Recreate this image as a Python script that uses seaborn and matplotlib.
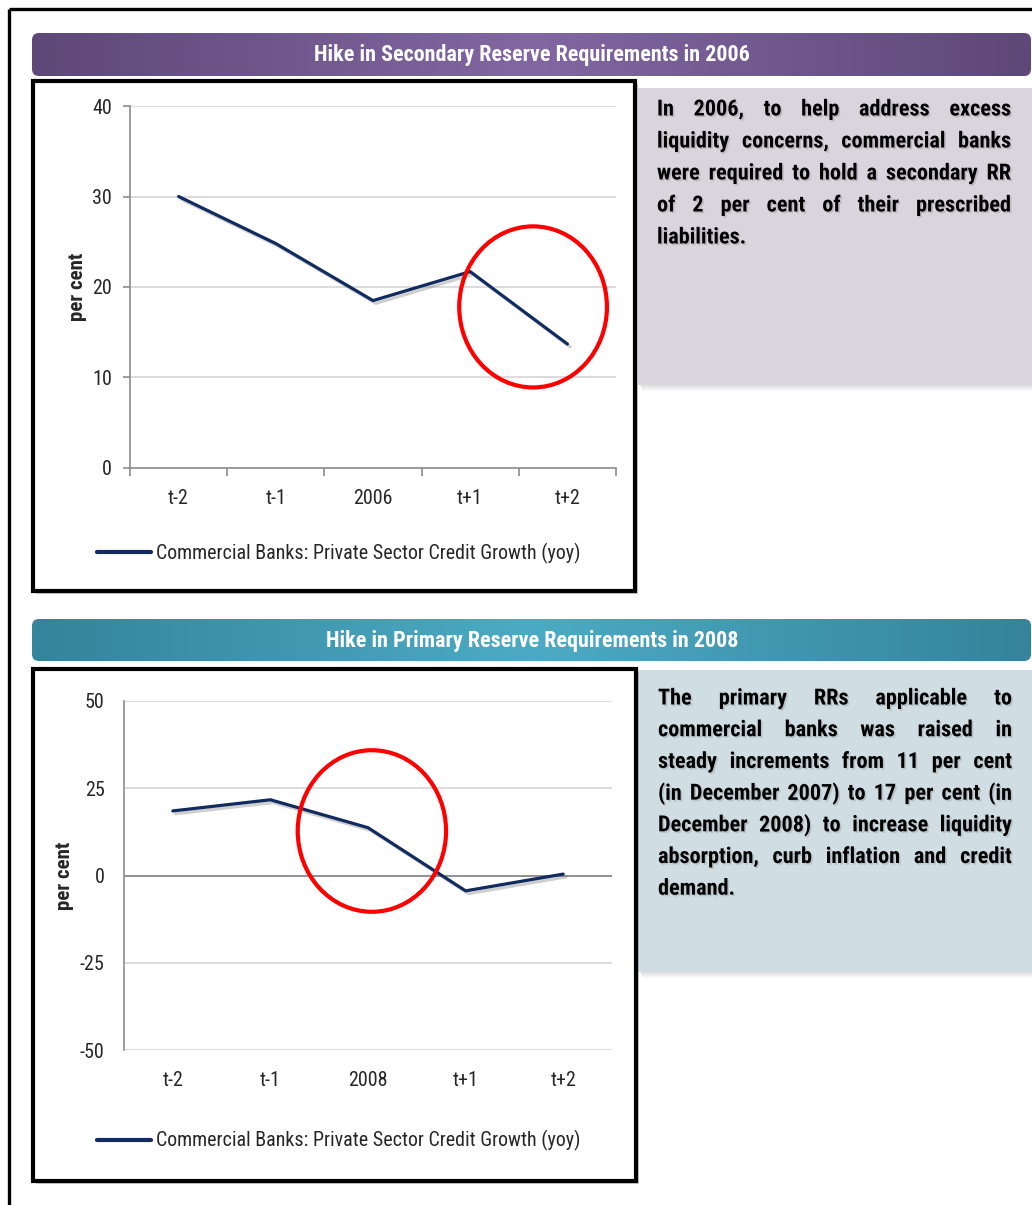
import numpy as np
import pandas as pd
import matplotlib
matplotlib.use("Agg")
import matplotlib.pyplot as plt
import matplotlib.patheffects as pe
from matplotlib import font_manager as fm
from matplotlib.patches import Rectangle, FancyBboxPatch, Ellipse
from matplotlib.colors import LinearSegmentedColormap
import seaborn as sns

# ---- data -------------------------------------------------------------
periods_2006 = ["t-2", "t-1", "2006", "t+1", "t+2"]
growth_2006 = [30.0, 24.8, 18.5, 21.7, 13.7]

periods_2008 = ["t-2", "t-1", "2008", "t+1", "t+2"]
growth_2008 = [18.5, 21.7, 13.7, -4.4, 0.4]

yticks_2006 = [0, 10, 20, 30, 40]
yticks_2008 = [-50, -25, 0, 25, 50]

series_label = "Commercial Banks: Private Sector Credit Growth (yoy)"
title_2006 = "Hike in Secondary Reserve Requirements in 2006"
title_2008 = "Hike in Primary Reserve Requirements in 2008"

note_2006 = [
    "In 2006, to help address excess",
    "liquidity concerns, commercial banks",
    "were required to hold a secondary RR",
    "of 2 per cent of their prescribed",
    "liabilities.",
]
note_2008 = [
    "The primary RRs applicable to",
    "commercial banks was raised in",
    "steady increments from 11 per cent",
    "(in December 2007) to 17 per cent (in",
    "December 2008) to increase liquidity",
    "absorption, curb inflation and credit",
    "demand.",
]

# ---- fonts: prefer a narrow sans, otherwise a compact one ----------------
sns.set_theme(style="white")
available = {(f.name, f.stretch) for f in fm.fontManager.ttflist}
names = {n for n, _ in available}
STRETCH = "normal"
FAMILY = "Roboto"
for cand in ("Liberation Sans Narrow", "Arial Narrow", "Roboto Condensed",
             "DejaVu Sans Condensed", "Open Sans Condensed"):
    if cand in names:
        FAMILY = cand
        break
else:
    if ("DejaVu Sans", "condensed") in available:
        FAMILY, STRETCH = "DejaVu Sans", "condensed"
    elif "Roboto" not in names:
        FAMILY = "Liberation Sans"
plt.rcParams["font.family"] = [FAMILY, "DejaVu Sans"]
plt.rcParams["font.stretch"] = STRETCH

W, H = 1032, 1205
NAVY = "#112b5f"
AXIS_GREY = "#8c8c8c"
GRID_GREY = "#d9d9d9"

fig = plt.figure(figsize=(W / 100, H / 100), dpi=100)
fig.patch.set_facecolor("white")
renderer = fig.canvas.get_renderer()

# full-page canvas in pixel units (y downwards) for panels and boxes
bg = fig.add_axes([0, 0, 1, 1], zorder=0)
bg.set_xlim(0, W)
bg.set_ylim(H, 0)
bg.axis("off")


def text_width(s, size, weight="normal"):
    t = bg.text(0, 0, s, fontsize=size, fontweight=weight)
    w = t.get_window_extent(renderer).width
    t.remove()
    return w


def fit_size(s, target_px, weight="normal", cap=None):
    size = 10 * target_px / text_width(s, 10, weight)
    return min(size, cap) if cap else size


def frac(x0, y0, x1, y1):
    return [x0 / W, 1 - y1 / H, (x1 - x0) / W, (y1 - y0) / H]


# sizes tuned to the printed widths of the labels
LEGEND_SIZE = fit_size(series_label, 422, cap=15)
TICK_SIZE = LEGEND_SIZE
TITLE_SIZE = fit_size(title_2006, 435, "bold", cap=16)
YLABEL_SIZE = fit_size("per cent", 68, "bold", cap=16)
BODY_SIZE = fit_size(note_2006[1], 350, "bold", cap=16)
# keep every justified line from running past the panel margin
for line in note_2006[:-1] + note_2008[:-1]:
    n_gaps = max(len(line.split(" ")) - 1, 1)
    words_only = "".join(line.split(" "))
    while text_width(words_only, BODY_SIZE, "bold") + n_gaps * 2.0 > 354:
        BODY_SIZE -= 0.1

# outer page frame
bg.plot([9, 9], [9, H], color="black", lw=2.4, solid_capstyle="butt")
bg.plot([9, W], [9, 9], color="black", lw=2.4, solid_capstyle="butt")


def banner(y0, y1, c_edge, c_mid, title):
    patch = FancyBboxPatch((32, y0), 999, y1 - y0,
                           boxstyle="round,pad=0,rounding_size=7",
                           facecolor="none", edgecolor="none")
    bg.add_patch(patch)
    cmap = LinearSegmentedColormap.from_list("band", [c_edge, c_mid, c_edge])
    grad = np.linspace(0, 1, 256)[None, :]
    im = bg.imshow(grad, cmap=cmap, extent=(32, 1031, y1, y0),
                   aspect="auto", zorder=1, interpolation="bilinear")
    im.set_clip_path(patch)
    bg.text(532, (y0 + y1) / 2 + 1, title, color="white", fontsize=TITLE_SIZE,
            fontweight="bold", ha="center", va="center", zorder=2)


banner(33, 76, "#5e4878", "#8267a2", title_2006)
banner(619, 661, "#35849b", "#4cabc4", title_2008)
bg.set_xlim(0, W)
bg.set_ylim(H, 0)


def note_panel(y0, y1, color):
    # soft drop shadow under the panel
    for i in range(8):
        bg.add_patch(Rectangle((640 + i * 0.3, y1 - 2 + i), W - 640, 1.2,
                               facecolor="#7a7a7a", alpha=0.32 * (1 - i / 8),
                               edgecolor="none", zorder=1))
    bg.add_patch(Rectangle((638, y0), W - 638, y1 - y0, facecolor=color,
                           edgecolor="none", zorder=1.5))


note_panel(88, 385, "#d8d5dd")
note_panel(670, 972, "#d0dee4")


def chart_box(x0, y0, x1, y1):
    bg.add_patch(Rectangle((x0 + 3, y0 + 3), x1 - x0, y1 - y0,
                           facecolor="#9a9a9a", edgecolor="none", alpha=0.5, zorder=2))
    bg.add_patch(Rectangle((x0, y0), x1 - x0, y1 - y0, facecolor="white",
                           edgecolor="black", lw=3.0, zorder=3))


chart_box(33, 81, 635, 591)
chart_box(33, 669, 636, 1181)


def justified(lines, x0, x1, y_first, dy, size):
    shadow = [pe.SimplePatchShadow(offset=(1.2, -1.2), shadow_rgbFace="#555555",
                                   alpha=0.2), pe.Normal()]
    space_w = text_width("a a", size, "bold") - text_width("aa", size, "bold")
    for k, line in enumerate(lines):
        y = y_first + k * dy
        words = line.split(" ")
        texts = [bg.text(0, y, w, fontsize=size, fontweight="bold", color="black",
                         ha="left", va="center", zorder=4) for w in words]
        widths = [t.get_window_extent(renderer).width for t in texts]
        if k == len(lines) - 1 or len(words) == 1:
            gap = space_w
        else:
            gap = (x1 - x0 - sum(widths)) / (len(words) - 1)
        x = x0
        for t, w in zip(texts, widths):
            t.set_x(x)
            t.set_path_effects(shadow)
            x += w + gap


justified(note_2006, 657, 1011, 109.5, 32, BODY_SIZE)
justified(note_2008, 658, 1012, 698.5, 31.7, BODY_SIZE)


def credit_chart(rect, periods, growth, yticks, ylim, boundary_ticks, zero_line,
                 ellipse, legend_anchor, label_x):
    ax = fig.add_axes(frac(*rect), zorder=5)
    ax.patch.set_alpha(0)
    df = pd.DataFrame({"period": periods, "growth": growth})
    sns.lineplot(data=df, x="period", y="growth", sort=False, ax=ax,
                 color=NAVY, linewidth=2.3, label=series_label)
    for line in ax.get_lines():
        line.set_path_effects([pe.SimpleLineShadow(offset=(2, -2), shadow_color="#777777",
                                                   alpha=0.35), pe.Normal()])
    ax.set_xlim(-0.5, len(periods) - 0.5)
    ax.set_ylim(*ylim)
    ax.set_yticks(yticks)
    ax.set_yticklabels([str(v) for v in yticks])
    ax.set_xticks(range(len(periods)))
    ax.set_xticklabels(periods)
    ax.yaxis.grid(True, color=GRID_GREY, lw=1.3)
    ax.xaxis.grid(False)
    for s in ("top", "right"):
        ax.spines[s].set_visible(False)
    ax.spines["left"].set_color(AXIS_GREY)
    ax.spines["left"].set_linewidth(1.2)
    if boundary_ticks:
        ax.spines["bottom"].set_color(AXIS_GREY)
        ax.spines["bottom"].set_linewidth(1.2)
        ax.set_xticks(np.arange(-0.5, len(periods), 1.0), minor=True)
        ax.tick_params(axis="x", which="minor", length=6, width=1.2,
                       color=AXIS_GREY, direction="out", bottom=True)
        ax.tick_params(axis="x", which="major", length=0, pad=15, labelsize=TICK_SIZE)
        ax.tick_params(axis="y", which="major", length=5, width=1.2,
                       color=AXIS_GREY, direction="out", left=True, pad=8,
                       labelsize=TICK_SIZE)
    else:
        ax.spines["bottom"].set_visible(False)
        ax.tick_params(axis="x", which="major", length=0, pad=15, labelsize=TICK_SIZE)
        ax.tick_params(axis="y", which="major", length=0, pad=14, labelsize=TICK_SIZE)
    if zero_line:
        ax.axhline(0, color=AXIS_GREY, lw=1.3, zorder=1.5)
    ax.set_xlabel("")
    ax.set_ylabel("per cent", fontsize=YLABEL_SIZE, fontweight="bold")
    ax.yaxis.set_label_coords(label_x, 0.5)
    cx, cy, ew, eh = ellipse
    ax.add_patch(Ellipse((cx, cy), ew, eh, fill=False, edgecolor="#ff0000",
                         lw=3.0, zorder=6))
    font_px = LEGEND_SIZE * 100 / 72
    leg = ax.legend(loc="center", bbox_to_anchor=legend_anchor, frameon=False,
                    fontsize=LEGEND_SIZE, handlelength=54 / font_px,
                    handletextpad=5 / font_px)
    for h in leg.get_lines():
        h.set_path_effects([])
        h.set_linewidth(3.0)
    return ax


credit_chart((130, 106, 616, 468), periods_2006, growth_2006, yticks_2006, (0, 40),
             True, False, (3.647, 17.8, 1.52, 17.8), (0.43, -0.235), -0.088)
credit_chart((124, 701, 612, 1050), periods_2008, growth_2008, yticks_2008, (-50, 50),
             False, True, (2.04, 12.75, 1.52, 46.3), (0.44, -0.26), -0.102)

fig.savefig("out.png", dpi=100, facecolor="white")
